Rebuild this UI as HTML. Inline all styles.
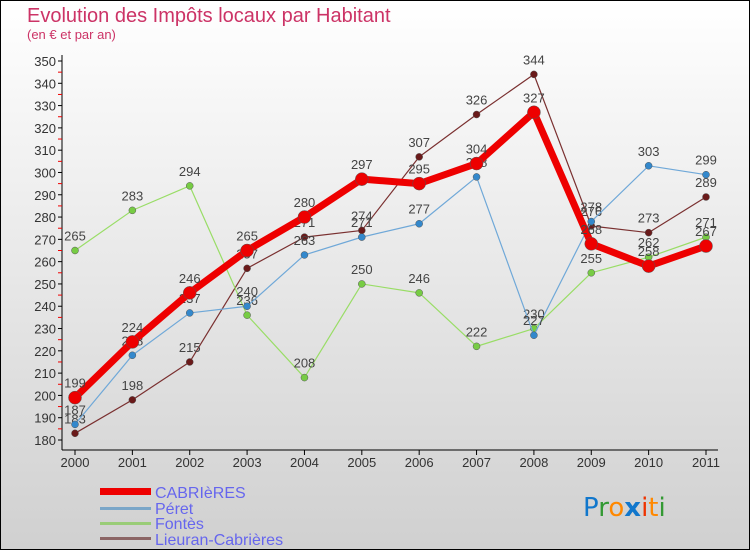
<!DOCTYPE html>
<html><head><meta charset="utf-8"><style>
body{margin:0;}
#c{width:750px;height:550px;position:relative;overflow:hidden;font-family:"Liberation Sans","DejaVu Sans",sans-serif;}
</style></head><body>
<div id="c">
<svg id="s" width="750" height="550" xmlns="http://www.w3.org/2000/svg" font-family="Liberation Sans, DejaVu Sans, sans-serif">
<defs><linearGradient id="bg" x1="0" y1="0" x2="0" y2="1"><stop offset="0" stop-color="#ffffff"/><stop offset="1" stop-color="#d0d0d0"/></linearGradient></defs>
<rect x="0.5" y="0.5" width="749" height="549" fill="url(#bg)" stroke="#000"/>
<text x="27" y="22" font-size="20" fill="#cc3366">Evolution des Impôts locaux par Habitant</text>
<text x="27" y="39" font-size="13" fill="#cc3366">(en € et par an)</text>
<g id="axes"></g><g id="series"></g>
<g>
<rect x="100" y="488" width="51" height="7" fill="#ee0000"/>
<text x="155" y="498" font-size="16" fill="#6666ee">CABRIèRES</text>
<rect x="100" y="507" width="51" height="3" fill="#7aa6c8"/>
<text x="155" y="514" font-size="16" fill="#6666ee">Péret</text>
<rect x="100" y="522" width="51" height="3" fill="#99cc77"/>
<text x="155" y="529" font-size="16" fill="#6666ee">Fontès</text>
<rect x="100" y="537" width="51" height="3" fill="#8b6565"/>
<text x="155" y="545" font-size="16" fill="#6666ee">Lieuran-Cabrières</text>
</g>
<g font-size="26" font-family="DejaVu Sans, sans-serif">
<text x="583" y="516"><tspan fill="#1177cc">P</tspan><tspan fill="#339933">r</tspan><tspan fill="#ff8800">o</tspan><tspan fill="#1177cc" font-weight="bold">x</tspan><tspan fill="#ee3300">i</tspan><tspan fill="#ff8800">t</tspan><tspan fill="#339933">i</tspan></text>
</g>
</svg>
</div>
<script>
const years=["2000","2001","2002","2003","2004","2005","2006","2007","2008","2009","2010","2011"];
const cabrieres=[199,224,246,265,280,297,295,304,327,268,258,267];
const peret=[187,218,237,240,263,271,277,298,227,278,303,299];
const fontes=[265,283,294,236,208,250,246,222,230,255,262,271];
const lieuran=[183,198,215,257,271,274,307,326,344,276,273,289];
const yTicks=[180,190,200,210,220,230,240,250,260,270,280,290,300,310,320,330,340,350];
const NS="http://www.w3.org/2000/svg";
const X=i=>75+i*(706-75)/11;
const Y=v=>440-(v-180)*(440-61)/170;
function mk(t,a,p){const e=document.createElementNS(NS,t);for(const k in a)e.setAttribute(k,a[k]);p.appendChild(e);return e;}
const ax=document.getElementById('axes');
let yl=mk('line',{x1:62,y1:55,x2:62,y2:450,stroke:'#000'},ax);


let xl=mk('line',{x1:62,y1:450,x2:718,y2:450,stroke:'#000'},ax);


yTicks.forEach(v=>{
 mk('line',{x1:58,y1:Y(v),x2:62,y2:Y(v),stroke:'#000'},ax);
 if(v<350)mk('line',{x1:58,y1:Y(v+5),x2:62,y2:Y(v+5),stroke:'#e00'},ax);
 const t=mk('text',{x:56,y:Y(v)+5,'font-size':13,fill:'#333','text-anchor':'end'},ax);
 t.textContent=v;
 
 
});
years.forEach((y,i)=>{
 mk('line',{x1:X(i),y1:450,x2:X(i),y2:455,stroke:'#000'},ax);
 const t=mk('text',{x:X(i),y:467,'font-size':13,fill:'#333','text-anchor':'middle'},ax);
 t.textContent=y;
 
 
});
const sg=document.getElementById('series');
function series(d,name,col,lw,r,dot){
 const g=mk('g',{},sg);
 
 
 const pl=mk('polyline',{points:d.map((v,i)=>X(i)+','+Y(v)).join(' '),fill:'none',stroke:col,'stroke-width':lw,'stroke-linejoin':'round'},g);
 
 
 d.forEach((v,i)=>{
  const c=mk('circle',{cx:X(i),cy:Y(v),r:r,fill:dot,stroke:'#555','stroke-width':0.5},g);
  
  
  const t=mk('text',{x:X(i),y:Y(v)-10,'font-size':13,fill:'#444','text-anchor':'middle'},g);
  t.textContent=v;
  
  
 });
}
series(lieuran,'lieuran','#7a3030',1.2,3.5,'#6a1a1a');
series(fontes,'fontes','#99dd66',1.2,3.5,'#77cc44');
series(peret,'peret','#6fa8d8',1.2,3.5,'#3388cc');
series(cabrieres,'cabrieres','#ee0000',7,6.5,'#ee0000');
</script>
</body></html>
